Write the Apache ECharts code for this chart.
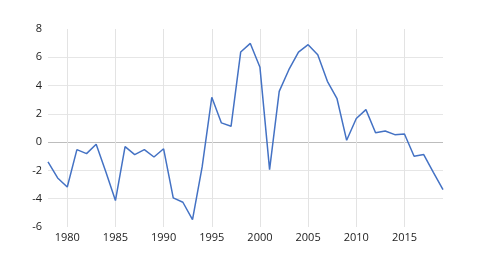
<!DOCTYPE html>
<html>
<head>
<meta charset="utf-8">
<script src="https://cdn.jsdelivr.net/npm/echarts@6/dist/echarts.min.js"></script>
<style>html,body{margin:0;padding:0;background:#fff;}#c{width:492px;height:260px;}</style>
</head>
<body>
<div id="c"></div>
<script>
var years = [];
for (var y = 1978; y <= 2019; y++) years.push(String(y));
var values = [
  -1.40, -2.53, -3.17, -0.53, -0.81, -0.15, -2.10, -4.13, -0.32, -0.88,
  -0.53, -1.05, -0.47, -3.94, -4.25, -5.48, -1.75, 3.17, 1.36, 1.12,
  6.37, 6.98, 5.29, -1.94, 3.59, 5.12, 6.37, 6.89, 6.18, 4.30,
  3.07, 0.13, 1.67, 2.30, 0.67, 0.79, 0.53, 0.58, -1.00, -0.88,
  -2.13, -3.36
];
var yMin = -6, yMax = 8, yStep = 2;

var chart = echarts.init(document.getElementById('c'), null, {renderer: 'canvas'});
var every5 = function (i, v) { return Number(v) % 5 === 0; };
chart.setOption({
  animation: false,
  grid: {left: 48, right: 49, top: 29, bottom: 33},
  xAxis: {
    type: 'category',
    data: years,
    boundaryGap: false,
    axisLine: {show: false},
    axisTick: {show: false},
    axisLabel: {interval: every5, color: '#222', fontSize: 11, fontFamily: 'Open Sans', margin: 5},
    splitLine: {show: true, interval: every5, lineStyle: {color: '#e3e3e3', width: 1}}
  },
  yAxis: {
    type: 'value',
    min: yMin, max: yMax, interval: yStep,
    axisLine: {show: false},
    axisTick: {show: false},
    axisLabel: {color: '#222', fontSize: 11, fontFamily: 'Open Sans', margin: 6},
    splitLine: {show: true, lineStyle: {color: ['rgba(0,0,0,0)', '#e6e6e6', '#e6e6e6', '#bdbdbd', '#e6e6e6', '#e6e6e6', '#e6e6e6', 'rgba(0,0,0,0)'], width: 1}}
  },
  series: [{
    type: 'line',
    data: values,
    symbol: 'none',
    lineStyle: {color: '#4472C4', width: 1.5},
    itemStyle: {color: '#4472C4'}
  }]
});
</script>
</body>
</html>
